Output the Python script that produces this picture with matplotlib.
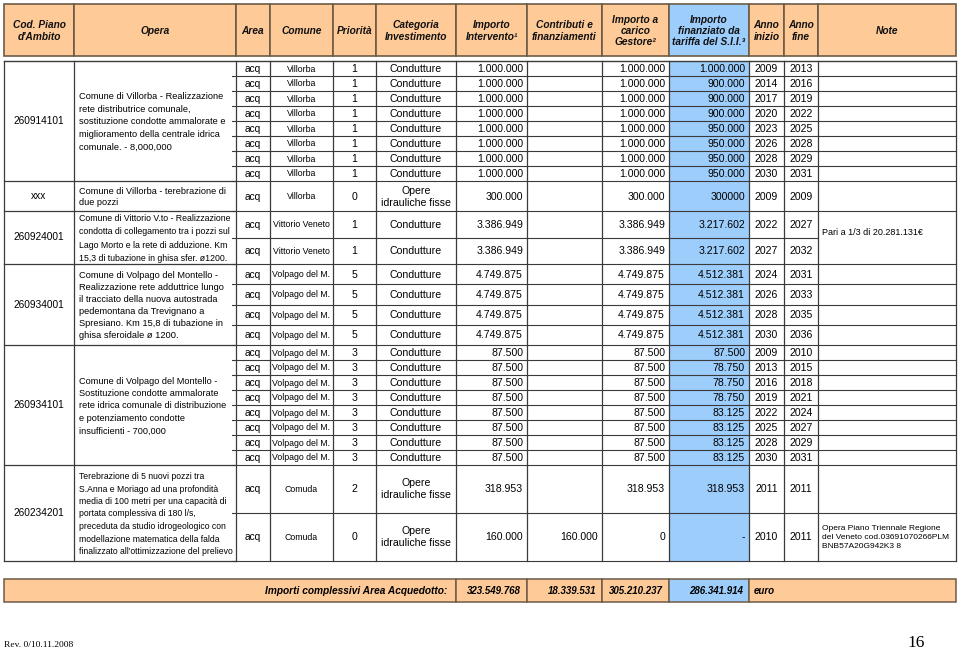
import matplotlib.pyplot as plt
from matplotlib.patches import Rectangle

plt.rcParams['font.family'] = ['Liberation Sans', 'DejaVu Sans']
SERIF = ['Liberation Serif', 'DejaVu Serif']

# --- dati della tabella ---
intestazioni = ['Cod. Piano\nd\'Ambito', 'Opera', 'Area', 'Comune', 'Priorità',
                'Categoria\nInvestimento', 'Importo\nIntervento¹', 'Contributi e\nfinanziamenti',
                'Importo a\ncarico\nGestore²', 'Importo\nfinanziato da\ntariffa del S.I.I.³',
                'Anno\ninizio', 'Anno\nfine', 'Note']

codici = ['260914101', 'xxx', '260924001', '260934001', '260934101', '260234201']
opere = [
    'Comune di Villorba - Realizzazione\nrete distributrice comunale,\nsostituzione condotte ammalorate e\n'
    'miglioramento della centrale idrica\ncomunale. - 8,000,000',
    'Comune di Villorba - terebrazione di\ndue pozzi',
    'Comune di Vittorio V.to - Realizzazione\ncondotta di collegamento tra i pozzi sul\n'
    'Lago Morto e la rete di adduzione. Km\n15,3 di tubazione in ghisa sfer. ø1200.',
    'Comune di Volpago del Montello -\nRealizzazione rete adduttrice lungo\nil tracciato della nuova autostrada\n'
    'pedemontana da Trevignano a\nSpresiano. Km 15,8 di tubazione in\nghisa sferoidale ø 1200.',
    'Comune di Volpago del Montello -\nSostituzione condotte ammalorate\nrete idrica comunale di distribuzione\n'
    'e potenziamento condotte\ninsufficienti - 700,000',
    'Terebrazione di 5 nuovi pozzi tra\nS.Anna e Moriago ad una profondità\nmedia di 100 metri per una capacità di\n'
    'portata complessiva di 180 l/s,\npreceduta da studio idrogeologico con\nmodellazione matematica della falda\n'
    'finalizzato all\'ottimizzazione del prelievo',
]
righe_per_opera = [8, 1, 2, 4, 8, 2]

area = ['acq'] * 25
comuni = ['Villorba'] * 9 + ['Vittorio Veneto'] * 2 + ['Volpago del M.'] * 12 + ['Comuda'] * 2
priorita = ['1'] * 8 + ['0'] + ['1'] * 2 + ['5'] * 4 + ['3'] * 8 + ['2', '0']
categoria = ['Condutture'] * 8 + ['Opere\nidrauliche fisse'] + ['Condutture'] * 14 + ['Opere\nidrauliche fisse'] * 2
importo = ['1.000.000'] * 8 + ['300.000'] + ['3.386.949'] * 2 + ['4.749.875'] * 4 + ['87.500'] * 8 + ['318.953', '160.000']
contributi = [''] * 24 + ['160.000']
carico = ['1.000.000'] * 8 + ['300.000'] + ['3.386.949'] * 2 + ['4.749.875'] * 4 + ['87.500'] * 8 + ['318.953', '0']
tariffa = ['1.000.000', '900.000', '900.000', '900.000', '950.000', '950.000', '950.000', '950.000',
           '300000', '3.217.602', '3.217.602', '4.512.381', '4.512.381', '4.512.381', '4.512.381',
           '87.500', '78.750', '78.750', '78.750', '83.125', '83.125', '83.125', '83.125', '318.953', '-']
inizio = ['2009', '2014', '2017', '2020', '2023', '2026', '2028', '2030', '2009', '2022', '2027',
          '2024', '2026', '2028', '2030', '2009', '2013', '2016', '2019', '2022', '2025', '2028', '2030',
          '2011', '2010']
fine = ['2013', '2016', '2019', '2022', '2025', '2028', '2029', '2031', '2009', '2027', '2032',
        '2031', '2033', '2035', '2036', '2010', '2015', '2018', '2021', '2024', '2027', '2029', '2031',
        '2011', '2011']
nota_vittorio = 'Pari a 1/3 di 20.281.131€'
nota_comuda = 'Opera Piano Triennale Regione\ndel Veneto cod.03691070266PLM\nBNB57A20G942K3 8'

totale_label = 'Importi complessivi Area Acquedotto:'
totali = ['323.549.768', '18.339.531', '305.210.237', '286.341.914']

# --- layout (pixel) ---
xs = [4, 74, 236, 270, 333, 376, 456, 527, 602, 669, 749, 784, 818, 956]
alt_righe = [15] * 8 + [30] + [26.5, 26.5] + [20.25] * 4 + [15] * 8 + [47.5, 48.5]
PEACH = '#fdca98'
BLUE = '#9dcdfb'
LINE = '#3a3a3a'
HLINE = '#6e5b47'

fig = plt.figure(figsize=(9.6, 6.51), dpi=100)
ax = fig.add_axes([0, 0, 1, 1])
ax.set_xlim(0, 960)
ax.set_ylim(651, 0)
ax.axis('off')

# intestazione
h0, h1 = 4, 56
for i in range(len(xs) - 1):
    col = BLUE if i == 9 else PEACH
    ax.add_patch(Rectangle((xs[i], h0), xs[i + 1] - xs[i], h1 - h0, facecolor=col,
                           edgecolor=HLINE, linewidth=1.2))
    ax.text((xs[i] + xs[i + 1]) / 2, (h0 + h1) / 2 + 1, intestazioni[i], ha='center', va='center',
            fontsize=7.3, fontweight='bold', fontstyle='italic', linespacing=1.15, color='#111111')

# corpo
top = 61
ys = [top]
for h in alt_righe:
    ys.append(ys[-1] + h)
bottom = ys[-1]

ax.add_patch(Rectangle((xs[9], top), xs[10] - xs[9], bottom - top, facecolor=BLUE, edgecolor='none'))

# linee orizzontali per riga
for r in range(len(alt_righe)):
    yb = ys[r + 1]
    ax.plot([xs[2] - 4, xs[12]], [yb, yb], color=LINE, lw=0.8)
    if r != 9:
        ax.plot([xs[12], xs[13]], [yb, yb], color=LINE, lw=0.8)
ax.plot([xs[0], xs[13]], [top, top], color=LINE, lw=1.0)

# gruppi (codice + opera)
size_opera = [6.7, 6.6, 6.3, 6.7, 6.6, 6.2]
spazio_opera = [1.55, 1.3, 1.6, 1.45, 1.5, 1.5]
r = 0
for g, n in enumerate(righe_per_opera):
    y0, y1 = ys[r], ys[r + n]
    ax.plot([xs[0], xs[2]], [y1, y1], color=LINE, lw=0.9)
    ax.text((xs[0] + xs[1]) / 2, (y0 + y1) / 2, codici[g], ha='center', va='center', fontsize=7.3)
    ax.text(xs[1] + 5, (y0 + y1) / 2 + 1, opere[g], ha='left', va='center', fontsize=size_opera[g],
            linespacing=spazio_opera[g])
    r += n

for x in xs:
    ax.plot([x, x], [top, bottom], color=LINE, lw=0.9)

# celle
for r in range(len(alt_righe)):
    yc = (ys[r] + ys[r + 1]) / 2 + 0.5
    ax.text((xs[2] + xs[3]) / 2, yc, area[r], ha='center', va='center', fontsize=7.3)
    ax.text((xs[3] + xs[4]) / 2, yc, comuni[r], ha='center', va='center', fontsize=6.3)
    ax.text((xs[4] + xs[5]) / 2, yc, priorita[r], ha='center', va='center', fontsize=7.6)
    ax.text((xs[5] + xs[6]) / 2, yc, categoria[r], ha='center', va='center', fontsize=7.6, linespacing=1.25)
    ax.text(xs[7] - 4, yc, importo[r], ha='right', va='center', fontsize=7.6)
    ax.text(xs[8] - 4, yc, contributi[r], ha='right', va='center', fontsize=7.6)
    ax.text(xs[9] - 4, yc, carico[r], ha='right', va='center', fontsize=7.6)
    ax.text(xs[10] - 4, yc, tariffa[r], ha='right', va='center', fontsize=7.6)
    ax.text((xs[10] + xs[11]) / 2, yc, inizio[r], ha='center', va='center', fontsize=7.6)
    ax.text((xs[11] + xs[12]) / 2, yc, fine[r], ha='center', va='center', fontsize=7.6)

ax.text(xs[12] + 4, (ys[9] + ys[11]) / 2 - 5, nota_vittorio, ha='left', va='center', fontsize=6.5)
ax.text(xs[12] + 4, (ys[24] + ys[25]) / 2 + 1, nota_comuda, ha='left', va='center', fontsize=6.0,
        linespacing=1.35)

# riga dei totali
t0, t1 = 579, 602
bar_x = [xs[0], xs[6], xs[7], xs[8], xs[9], xs[10], xs[13]]
for i in range(len(bar_x) - 1):
    col = BLUE if i == 4 else PEACH
    ax.add_patch(Rectangle((bar_x[i], t0), bar_x[i + 1] - bar_x[i], t1 - t0, facecolor=col,
                           edgecolor=HLINE, linewidth=1.1))
yc = (t0 + t1) / 2 + 0.5
ax.text(xs[6] - 9, yc, totale_label, ha='right', va='center', fontsize=7.3, fontweight='bold',
        fontstyle='italic')
for i, v in enumerate(totali):
    ax.text(bar_x[i + 2] - 6, yc, v, ha='right', va='center', fontsize=7.0, fontweight='bold',
            fontstyle='italic')
ax.text(xs[10] + 5, yc, 'euro', ha='left', va='center', fontsize=7.0, fontweight='bold',
        fontstyle='italic')

# piè di pagina
ax.text(4, 645, 'Rev. 0/10.11.2008', ha='left', va='center', fontsize=6.8, family=SERIF)
ax.text(916, 643, '16', ha='center', va='center', fontsize=12.5, family=SERIF)

fig.savefig('out.png', dpi=100)
